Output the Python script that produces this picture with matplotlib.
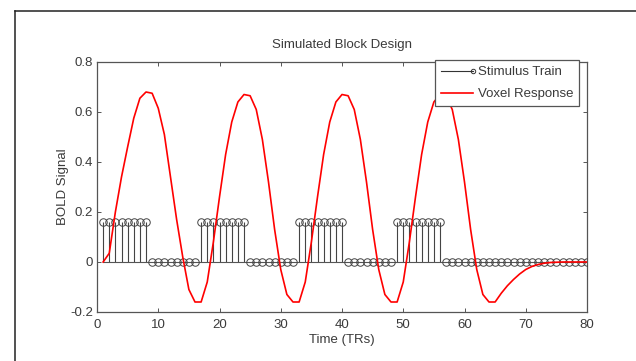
import matplotlib
matplotlib.use("Agg")
import matplotlib.pyplot as plt
from matplotlib.lines import Line2D
from matplotlib.legend_handler import HandlerBase

plt.rcParams['font.family'] = ['Liberation Sans', 'DejaVu Sans']

# ---- data ----
time_trs = list(range(1, 81))
stimulus = ([0.16] * 8 + [0.0] * 8) * 4 + [0.0] * 16
voxel_response = [
    0.0, 0.035, 0.2, 0.34, 0.46, 0.575, 0.655, 0.68, 0.675, 0.615, 0.51, 0.34, 0.17, 0.02, -0.11, -0.16,
    -0.16, -0.08, 0.08, 0.26, 0.43, 0.56, 0.64, 0.67, 0.665, 0.61, 0.49, 0.32, 0.13, -0.03, -0.13, -0.16,
    -0.16, -0.08, 0.08, 0.26, 0.43, 0.56, 0.64, 0.67, 0.665, 0.61, 0.49, 0.32, 0.13, -0.03, -0.13, -0.16,
    -0.16, -0.08, 0.08, 0.26, 0.43, 0.56, 0.64, 0.67, 0.665, 0.61, 0.49, 0.32, 0.13, -0.03, -0.13, -0.16,
    -0.16, -0.125, -0.095, -0.07, -0.048, -0.03, -0.018, -0.01, -0.005, -0.002, -0.001, 0.0, 0.0, 0.0, 0.0, 0.0,
]
x_ticks = [0, 10, 20, 30, 40, 50, 60, 70, 80]
y_ticks = [-0.2, 0, 0.2, 0.4, 0.6, 0.8]
y_tick_labels = ['-0.2', '0', '0.2', '0.4', '0.6', '0.8']

TXT = '#3a3a3a'
AX = '#555555'
FS = 9.5

fig = plt.figure(figsize=(6.36, 3.61), dpi=100)
ax = fig.add_axes([97 / 636, 1 - 312 / 361, 490 / 636, 250 / 361])

# stems
ax.vlines(time_trs, 0, stimulus, colors='#444444', linewidth=0.8, zorder=2)
ax.plot([time_trs[0], time_trs[-1]], [0, 0], color='#555555', linewidth=0.8, zorder=2)
ax.plot(time_trs, stimulus, linestyle='none', marker='o', markersize=5.4,
        markerfacecolor='none', markeredgecolor='#444444', markeredgewidth=0.7, zorder=3)
# response
ax.plot(time_trs, voxel_response, color='red', linewidth=1.2, zorder=4)

ax.set_xlim(0, 80)
ax.set_ylim(-0.2, 0.8)
ax.set_xticks(x_ticks)
ax.set_yticks(y_ticks)
ax.set_yticklabels(y_tick_labels)
ax.tick_params(direction='in', length=3, width=0.7, colors=AX, labelcolor=TXT,
               labelsize=FS, top=True, right=True, pad=3)
ax.tick_params(axis='x', pad=5)
for s in ax.spines.values():
    s.set_color(AX)
    s.set_linewidth(0.9)

ax.set_title('Simulated Block Design', fontsize=FS, color=TXT, pad=10)
ax.set_xlabel('Time (TRs)', fontsize=FS, color=TXT, labelpad=2)
ax.set_ylabel('BOLD Signal', fontsize=FS, color=TXT, labelpad=1)


class StemHandler(HandlerBase):
    def create_artists(self, legend, orig_handle, xdescent, ydescent, width, height, fontsize, trans):
        y = height / 2 - ydescent
        ln = Line2D([-xdescent, -xdescent + width], [y, y], color='#333333', linewidth=0.8, transform=trans)
        mk = Line2D([-xdescent + width], [y], marker='o', markersize=3.2, markerfacecolor='none',
                    markeredgecolor='#333333', markeredgewidth=0.7, linestyle='none', transform=trans)
        return [ln, mk]


stem_proxy = Line2D([], [], color='#333333')
resp_proxy = Line2D([], [], color='red', linewidth=1.2)
leg = fig.legend([stem_proxy, resp_proxy], ['Stimulus Train', 'Voxel Response'],
                 handler_map={stem_proxy: StemHandler()},
                 loc='upper right', bbox_to_anchor=(579 / 636, 1 - 60 / 361),
                 fontsize=FS, frameon=True, fancybox=False,
                 borderaxespad=0, handlelength=2.4, handletextpad=0.35,
                 borderpad=0.45, labelspacing=0.75)
leg.get_frame().set_edgecolor('#555555')
leg.get_frame().set_linewidth(0.9)
leg.get_frame().set_alpha(1)
for t in leg.get_texts():
    t.set_color(TXT)

# outer frame (partial border)
fig.add_artist(Line2D([15 / 636, 1.0], [1 - 11 / 361, 1 - 11 / 361], color='#222222', linewidth=1.1))
fig.add_artist(Line2D([15 / 636, 15 / 636], [0.0, 1 - 11 / 361], color='#222222', linewidth=1.1))

fig.savefig('out.png', dpi=100)
